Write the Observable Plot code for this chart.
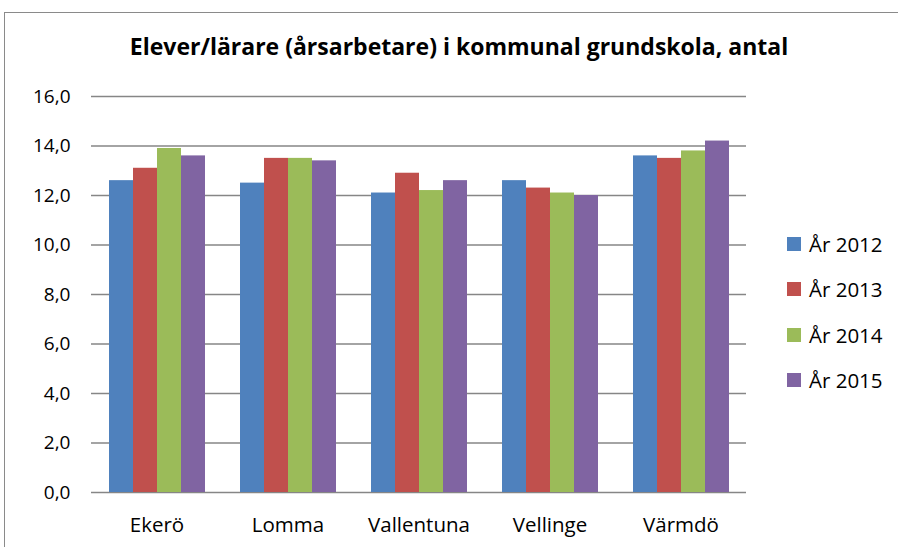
<!DOCTYPE html>
<html>
<head>
<meta charset="utf-8">
<script src="https://cdn.jsdelivr.net/npm/d3@7"></script>
<script src="https://cdn.jsdelivr.net/npm/@observablehq/plot@0.6"></script>
<style>
  html, body { margin: 0; padding: 0; background: #fff; }
  #wrap { position: relative; width: 898px; height: 547px; overflow: hidden; font-family: "Open Sans", sans-serif; }
  #frame { position: absolute; left: 4px; top: 12px; width: 1000px; height: 1000px; border: 1.5px solid #8a8a8a; box-sizing: border-box; }
  #title { position: absolute; left: 0; width: 918px; top: 30px; text-align: center; font-weight: bold; font-size: 23px; color: #000; letter-spacing: 0px; }
  #chart { position: absolute; left: 0; top: 0; }
  #legend { position: absolute; left: 787px; top: 221px; }
  .item { display: flex; align-items: center; height: 45.5px; font-size: 20.5px; color: #000; }
  .sw { width: 14px; height: 14px; margin-right: 8px; }
</style>
</head>
<body>
<div id="wrap">
  <div id="frame"></div>
  <div id="chart"></div>
  <div id="title">Elever/lärare (årsarbetare) i kommunal grundskola, antal</div>
  <div id="legend"></div>
</div>
<script>
const kommuner = ["Ekerö", "Lomma", "Vallentuna", "Vellinge", "Värmdö"];
const years = ["År 2012", "År 2013", "År 2014", "År 2015"];
const colors = ["#4F81BD", "#C0504D", "#9BBB59", "#8064A2"];
const v2012 = [12.6, 12.5, 12.1, 12.6, 13.6];
const v2013 = [13.1, 13.5, 12.9, 12.3, 13.5];
const v2014 = [13.9, 13.5, 12.2, 12.1, 13.8];
const v2015 = [13.6, 13.4, 12.6, 12.0, 14.2];
const yTicks = [0, 2, 4, 6, 8, 10, 12, 14, 16];

const series = [v2012, v2013, v2014, v2015];
const data = [];
kommuner.forEach((k, i) => {
  years.forEach((y, j) => data.push({kommun: k, year: y, value: series[j][i]}));
});

const fmt = d => d.toFixed(1).replace(".", ",");

const chart = Plot.plot({
  width: 898,
  height: 547,
  marginLeft: 91,
  marginRight: 152,
  marginTop: 96,
  marginBottom: 55,
  style: {fontFamily: "Open Sans, sans-serif", background: "transparent"},
  fx: {domain: kommuner, padding: 0},
  x: {domain: years, paddingOuter: 0.72, paddingInner: 0, axis: null},
  y: {domain: [0, 16]},
  color: {domain: years, range: colors},
  marks: [
    Plot.gridY(yTicks, {stroke: "#868686", strokeOpacity: 1, strokeWidth: 1.3}),
    Plot.barY(data, {fx: "kommun", x: "year", y: "value", fill: "year"}),
    Plot.axisY(yTicks, {tickSize: 0, tickPadding: 21, tickFormat: fmt, fontSize: 19, fill: "#000", label: null}),
    Plot.axisFx({anchor: "bottom", tickSize: 0, tickPadding: 25, fontSize: 20.5, fill: "#000", label: null})
  ]
});
document.getElementById("chart").appendChild(chart);

const legend = document.getElementById("legend");
years.forEach((y, j) => {
  const it = document.createElement("div");
  it.className = "item";
  const sw = document.createElement("div");
  sw.className = "sw";
  sw.style.background = colors[j];
  const t = document.createElement("span");
  t.textContent = y;
  it.appendChild(sw);
  it.appendChild(t);
  legend.appendChild(it);
});
</script>
</body>
</html>
